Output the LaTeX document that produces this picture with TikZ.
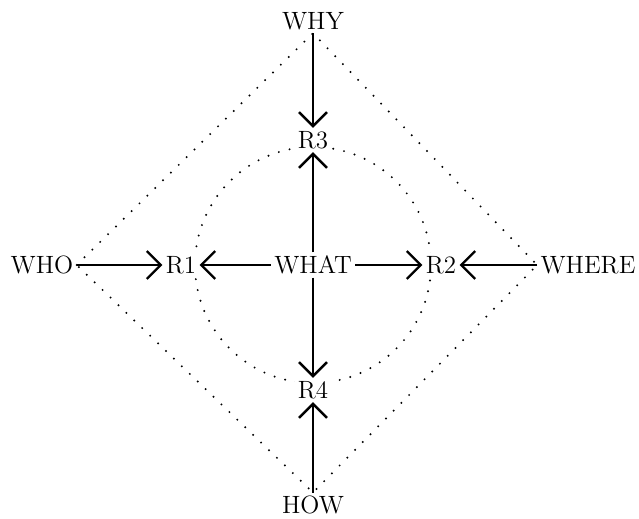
\documentclass[tikz,border=0pt]{standalone}
\usepackage{tikz}
\usetikzlibrary{arrows.meta}

\tikzset{
  word/.style={inner sep=1.5pt, fill=white, font=\fontsize{12.5}{14}\selectfont},
  arr/.style={-{Straight Barb[length=7pt,width=14pt,line width=1.2pt]}, line width=1.2pt},
  dots/.style={line width=1.1pt, line cap=round, dash pattern=on 0pt off 5.5pt}
}

\begin{document}
\begin{tikzpicture}[x=0.5pt, y=-0.5pt]
  \useasboundingbox (0,0) rectangle (639,519);
  % inner ring
  \draw[dots] (313,265) circle (59pt);
  % the words
  \node[word] (what)  at (313,265) {WHAT};
  \node[word] (why)   at (313,21)  {WHY};
  \node[word] (how)   at (313,505) {HOW};
  \node[word] (who)   at (42,265)  {WHO};
  \node[word] (where) at (588,265) {WHERE};
  \node[word] (r1)    at (181,265) {R1};
  \node[word] (r2)    at (441,265) {R2};
  \node[word] (r3)    at (313,140) {R3};
  \node[word] (r4)    at (313,390) {R4};
  % outer diamond
  \draw[dots] (who.east) -- (why.south) -- (where.west) -- (how.north) -- cycle;
  % arrows
  \draw[arr] (why) -- (r3);
  \draw[arr] (what) -- (r3);
  \draw[arr] (what) -- (r4);
  \draw[arr] (how) -- (r4);
  \draw[arr] (who) -- (r1);
  \draw[arr] (what) -- (r1);
  \draw[arr] (what) -- (r2);
  \draw[arr] (where) -- (r2);
\end{tikzpicture}
\end{document}
